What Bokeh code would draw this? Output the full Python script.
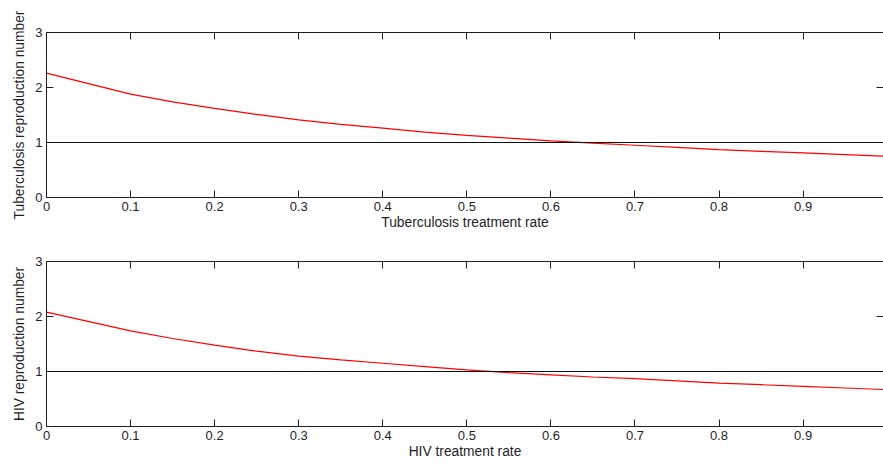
from bokeh.plotting import figure
from bokeh.layouts import column
from bokeh.models import LinearAxis, FixedTicker, Span, Range1d, CustomLabelingPolicy
from bokeh.embed import file_html
from bokeh.resources import INLINE

# treatment rate (x) and reproduction numbers
rate = [0.0, 0.1, 0.15, 0.2, 0.25, 0.3, 0.35, 0.4, 0.45, 0.5,
        0.55, 0.6, 0.65, 0.7, 0.75, 0.8, 0.85, 0.9, 0.95, 1.0]
tb_repro = [2.26, 1.88, 1.74, 1.62, 1.51, 1.41, 1.33, 1.26, 1.19, 1.13,
            1.08, 1.03, 0.99, 0.95, 0.91, 0.87, 0.84, 0.81, 0.78, 0.75]
hiv_repro = [2.08, 1.74, 1.60, 1.48, 1.37, 1.28, 1.21, 1.15, 1.09, 1.03,
             0.98, 0.94, 0.90, 0.87, 0.83, 0.79, 0.76, 0.73, 0.70, 0.67]
threshold = 1.0
x_ticks = [0.0, 0.1, 0.2, 0.3, 0.4, 0.5, 0.6, 0.7, 0.8, 0.9]
x_tick_labels = {0.0: "0", 0.1: "0.1", 0.2: "0.2", 0.3: "0.3", 0.4: "0.4",
                 0.5: "0.5", 0.6: "0.6", 0.7: "0.7", 0.8: "0.8", 0.9: "0.9"}
y_ticks = [0, 1, 2, 3]

FONT = "Liberation Sans"
TXT = "#1e1e28"
AX = "#202020"


def style_axis(ax, ticks, show_labels=True, show_line=True):
    ax.ticker = FixedTicker(ticks=ticks)
    ax.minor_tick_line_color = None
    ax.major_tick_in = 7
    ax.major_tick_out = 0
    ax.major_tick_line_color = AX
    ax.axis_line_color = AX if show_line else None
    ax.major_label_text_font = FONT
    ax.major_label_text_color = TXT
    if show_labels:
        ax.major_label_text_font_size = "13px"
        ax.major_label_standoff = 4
    else:
        ax.major_label_text_font_size = "0px"
        ax.major_label_standoff = 0
        ax.major_label_policy = CustomLabelingPolicy(code="return []")
    ax.axis_label_text_font = FONT
    ax.axis_label_text_font_size = "13.8px"
    ax.axis_label_text_font_style = "normal"
    ax.axis_label_text_color = TXT
    ax.axis_label_standoff = 1


def make_panel(y, xlabel, ylabel, height, top, bottom):
    p = figure(width=883, height=height,
               x_range=Range1d(0, 0.9956), y_range=Range1d(0, 3),
               output_backend="svg", toolbar_location=None,
               min_border_left=46, min_border_right=0,
               min_border_top=top, min_border_bottom=bottom)
    p.outline_line_color = None
    p.xgrid.visible = False
    p.ygrid.visible = False
    p.background_fill_color = "white"
    p.border_fill_color = "white"

    p.xaxis.axis_label = xlabel
    p.yaxis.axis_label = ylabel
    for ax in p.xaxis:
        style_axis(ax, x_ticks)
        ax.major_label_overrides = x_tick_labels
    for ax in p.yaxis:
        style_axis(ax, y_ticks)
        ax.axis_label_standoff = 5

    top_ax = LinearAxis()
    style_axis(top_ax, x_ticks, show_labels=False)
    p.add_layout(top_ax, "above")
    right_ax = LinearAxis()
    style_axis(right_ax, y_ticks, show_labels=False, show_line=False)
    p.add_layout(right_ax, "right")

    p.add_layout(Span(location=threshold, dimension="width",
                      line_color="#101010", line_width=1))
    p.line(rate, y, line_color="red", line_width=1.2)
    return p


p1 = make_panel(tb_repro, "Tuberculosis treatment rate",
                "Tuberculosis reproduction number", 234, 32, 37)
p2 = make_panel(hiv_repro, "HIV treatment rate",
                "HIV reproduction number", 230, 27, 38)

layout = column(p1, p2, spacing=0)
open("out.html", "w").write(file_html(layout, INLINE))
